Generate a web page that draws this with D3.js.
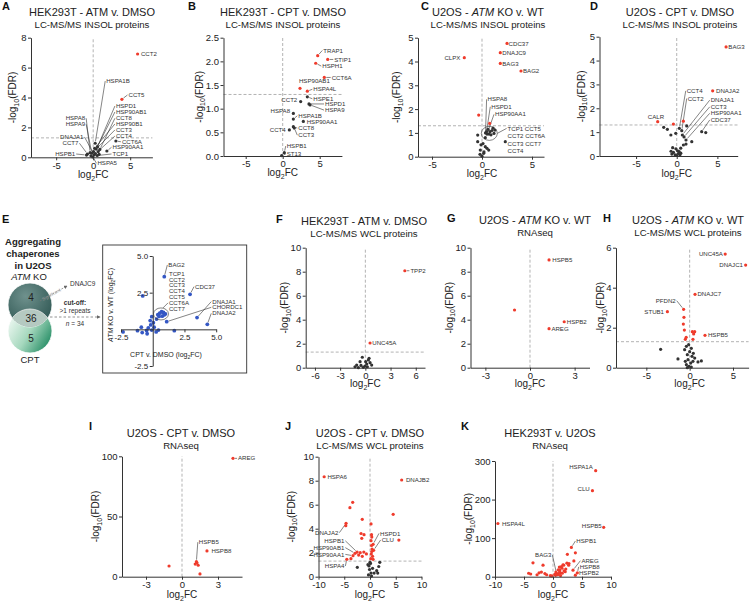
<!DOCTYPE html>
<html>
<head>
<meta charset="utf-8">
<title>Chaperone volcano plots</title>
<script src="https://cdn.jsdelivr.net/npm/d3@7"></script>
<style>
  body { margin: 0; background: #fff; }
  svg { font-family: "Liberation Sans", Arial, sans-serif; display: block; }
  .letter { font-size: 11px; font-weight: bold; fill: #111; }
  .title { font-size: 11px; fill: #222; text-anchor: middle; }
  .sub { font-size: 9.6px; fill: #222; text-anchor: middle; }
  .ax path, .ax line { stroke: #333; stroke-width: 1; }
  .ax text { font-size: 9.5px; fill: #222; }
  .axt { font-size: 10px; fill: #222; text-anchor: middle; }
  .gl { font-size: 6.1px; fill: #333; }
  .lead { stroke: #333; stroke-width: 0.6; }
  .ref { stroke: #aaa; stroke-width: 0.9; stroke-dasharray: 3 2; }
</style>
</head>
<body>
<svg id="fig" width="750" height="603"></svg>
<script>
// ---------- data (log2FC, -log10 FDR) ----------
// A  HEK293T - ATM v. DMSO, INSOL
const aFC  = [6.0, 3.88, 3.07, 1.85, 0.55, 0.27, 0.59, 0.41, 0.05, -0.18, -0.41, -0.77, 0.14, -0.05, 0.68, 0.9, 0.3, -0.3, 0.2, -0.9, 0.8];
const aFDR = [6.91, 3.88, 1.09, 0.42, 0.12, 0.94, 0.71, 0.55, 0.38, 0.27, 0.31, 0.22, 0.16, 0.02, 0.38, 0.53, 0.25, 0.1, 0.6, 0.15, 0.2];
const aLab = [[0,"CCT2",6.45,6.91,"start"],[5,"HSPA1B",1.76,5.1,"start"],[1,"CCT5",4.77,4.17,"start"],
  [6,"HSPD1",3.07,3.43,"start"],[7,"HSP90AB1",3.07,3.03,"start"],[15,"CCT8",3.07,2.61,"start"],
  [18,"HSP90B1",3.07,2.23,"start"],[8,"CCT3",3.07,1.83,"start"],[16,"CCT4",3.07,1.42,"start"],
  [2,"CCT6A",3.88,1.04,"start"],[3,"HSP90AA1",2.61,0.67,"start"],[4,"TCP1",2.61,0.22,"start"],
  [13,"HSPA5",0.58,-0.4,"start"],[10,"HSPA8",-1.08,2.61,"end"],[9,"HSPA9",-1.08,2.21,"end"],
  [12,"DNAJA1",-1.31,1.36,"end"],[11,"CCT7",-1.99,0.94,"end"],[19,"HSPB1",-2.43,0.22,"end"]];

// B  HEK293T - CPT v. DMSO, INSOL
const bFC  = [4.73, 6.08, 4.46, 5.62, 2.34, 3.33, 3.33, 2.43, 3.55, 3.7, 1.44, 1.44, 2.79, 1.44, 0.9, 1.57, 0.22, -0.14];
const bFDR = [2.12, 2.04, 1.96, 1.66, 1.43, 1.37, 1.25, 1.15, 1.10, 1.08, 0.9, 0.78, 0.73, 0.62, 0.55, 0.59, 0.07, 0.01];
const bLab = [[0,"TRAP1",5.49,2.23,"start"],[1,"STIP1",6.97,2.04,"start"],[2,"HSPH1",5.35,1.90,"start"],
  [3,"CCT6A",6.62,1.66,"start"],[4,"HSP90AB1",2.2,1.59,"start",0],[5,"HSPA4L",4.14,1.41,"start"],
  [6,"HSPE1",4.14,1.21,"start"],[7,"CCT2",1.97,1.18,"end"],[8,"HSPD1",5.72,1.10,"start"],
  [9,"HSPA9",5.72,0.97,"start"],[10,"HSPA8",0.99,0.95,"end"],[11,"HSPA1B",2.11,0.85,"start"],
  [12,"HSP90AA1",3.24,0.73,"start"],[14,"CCT4",0.41,0.55,"end"],[13,"CCT8",2.11,0.59,"start"],
  [15,"CCT3",2.11,0.44,"start"],[16,"HSPB1",0.54,0.21,"start"],[17,"ST13",0.54,0.04,"start"]];

// C  U2OS - ATM KO v. WT, INSOL
const cFC  = [2.5, 1.83, 1.83, 3.9, -1.77, -0.33, 0.77, 0.35, 0.45, 0.5, -0.43, -0.43, 0.33, 2.33, -0.17, 0.33, 0.17, 0.0, 0.67, 0.6, 0.8, 1.0, 1.2, 0.9, 1.3, 0.7, 1.1, -0.1, 0.1, 0.2, -0.2, 0.5];
const cFDR = [4.76, 4.37, 3.92, 3.6, 4.16, 1.75, 1.4, 1.0, 1.05, 0.95, 0.91, 0.63, 0.8, 0.63, 0.28, 0.42, 0.14, 0.02, 0.28, 1.15, 1.05, 1.1, 0.98, 0.92, 1.12, 0.95, 1.2, 0.5, 0.55, 0.2, 0.1, 0.35];
const cLab = [[0,"CDC37",2.66,4.76,"start"],[1,"DNAJC9",2.03,4.37,"start"],[2,"BAG3",2.03,3.92,"start"],
  [3,"BAG2",4.1,3.6,"start"],[4,"CLPX",-2.17,4.16,"end"],
  [7,"HSPA8",0.56,2.41,"start"],[8,"HSPD1",0.93,2.1,"start"],[9,"HSP90AA1",1.3,1.78,"start"]];
const cRing = [0.73, 0.98];
const cRingNames = ["TCP1 CCT5", "CCT2 CCT6A", "CCT3 CCT7", "CCT4"];
const cRingLabX = 2.56, cRingLabY = [1.19, 0.87, 0.55, 0.24];

// D  U2OS - CPT v. DMSO, INSOL
const dFC  = [6.07, 4.42, -2.34, -0.41, 0.82, 0.32, 0.62, 0.69, 0.9, 1.14, 3.07, 3.57, 1.23, -1.15, -1.6, -0.12, -0.72, 1.85, 0.82, 1.14, 0.49, -0.7, -0.6, -0.2, 0.0, 0.2, 0.4, -0.4, 0.1, -0.1, 0.3, -0.5, 0.5];
const dFDR = [4.57, 2.73, 1.44, 1.34, 1.46, 1.16, 1.06, 0.88, 0.8, 0.67, 1.02, 0.98, 1.26, 1.12, 1.2, 0.95, 0.88, 0.6, 0.46, 0.5, 0.33, 0.2, 0.08, 0.05, 0.02, 0.1, 0.05, 0.15, 0.22, 0.3, 0.18, 0.35, 0.12];
const dLab = [[0,"BAG3",6.35,4.57,"start"],[1,"DNAJA2",4.83,2.73,"start"],[2,"CALR",-2.55,1.62,"middle",0],
  [5,"CCT4",1.23,2.73,"start"],[6,"CCT2",1.35,2.41,"start"],[7,"DNAJA1",4.18,2.34,"start"],
  [8,"CCT3",4.18,2.06,"start"],[9,"HSP90AA1",4.18,1.79,"start"],[10,"CDC37",4.18,1.51,"start"]];

// E  ATM KO v. WT against CPT v. DMSO (U2OS)
const vennNums = [4, 36, 5];
const eCPT = [0.91, 2.94, 3.49, 1.1, 4.3, -0.79, 1.7, -2.34, -1.2, -0.83, 0.4, 0.55, 0.7, 0.85, 1.0, 0.75, 0.5, 0.9, -0.9, -0.48, -0.16, -0.08, 0.11, -0.35, 0.27, 0.45, -0.44, -0.2, -0.08, 0.05, 0.3];
const eKO  = [3.59, 2.39, 0.8, 0.52, 0.34, 2.28, -0.09, -0.18, -0.09, -0.22, 1.0, 1.1, 1.2, 1.15, 1.05, 0.9, 0.88, 0.98, 0.15, -0.08, 0.3, -0.05, 0.15, 0.1, -0.18, -0.05, -0.3, 0.6, 0.86, 0.45, 0.7];
const eLab = [[0,"BAG2",1.23,4.39,"start"],[1,"CDC37",3.33,2.91,"start"],[2,"DNAJA1",4.69,1.89,"start"],
  [3,"CHORDC1",4.69,1.5,"start"],[4,"DNAJA2",4.69,1.09,"start"]];
const eStack = ["TCP1", "CCT2", "CCT3", "CCT4", "CCT5", "CCT6A", "CCT7"];
const eRing = [0.65, 1.05];
const eTicks = [-2.5, 2.5, 5];

// F  HEK293T - ATM v. DMSO, WCL
const fFC  = [4.7, 0.56, -0.36, -0.63, -1.03, -1.23, 0.36, 0.56, 0.16, -0.04, -0.24, -0.52, 0.24, 0.75, -0.83, 0.44, 0.04];
const fFDR = [8.08, 2.06, 0.87, 0.5, 0.22, 0.08, 0.64, 0.42, 0.31, 0.14, 0.03, 0.19, 0.08, 0.22, 0.0, 0.78, 0.5];
const fLab = [[0,"TPP2",5.36,8.08,"start"],[1,"UNC45A",0.83,2.06,"start"]];

// G  U2OS - ATM KO v. WT, RNAseq
const gFC  = [1.28, -1.04, 2.3, 1.28];
const gFDR = [8.98, 4.81, 3.83, 3.25];
const gLab = [[0,"HSPB5",1.5,8.98,"start"],[2,"HSPB2",2.47,3.83,"start"],[3,"AREG",1.44,3.25,"start"]];

// H  U2OS - ATM KO v. WT, WCL
const hFC  = [4.1, 6.46, 0.62, -0.7, -2.57, 1.77, -0.66, -0.73, -0.61, -0.5, 0.31, 0.58, 0.46, 0.38, -0.4, -3.35, -1.35, 1.35, 0.96, -0.38, -0.12, -0.58, 0, 0.19, -0.27, 0.27, -0.19, 0.12, -0.38, -0.08, 0.38, -0.5, 0.58, 0.19, -0.27, 0.42];
const hFDR = [5.68, 5.13, 3.67, 2.92, 2.8, 1.62, 2.52, 2.18, 1.88, 1.42, 1.8, 1.8, 1.69, 1.42, 1.52, 0.92, 0.44, 0.34, 0.29, 1.07, 1.15, 0.9, 0.8, 0.97, 0.65, 0.57, 0.4, 0.23, 0.15, 0.07, 0.32, 0.32, 0.48, 0.03, 0.0, 0.72];
const hLab = [[0,"UNC45A",3.84,5.68,"end"],[1,"DNAJC1",6.15,5.13,"end"],[2,"DNAJC7",0.89,3.67,"start"],
  [3,"PFDN2",-1.61,3.35,"end"],[4,"STUB1",-2.96,2.8,"end"],[5,"HSPB5",2.11,1.62,"start"]];

// I  U2OS - CPT v. DMSO, RNAseq
const iFC  = [4.25, 2.08, 1.2, -1.08, 1.1, 1.35, 1.25, 1.5];
const iFDR = [98.3, 21.4, 12.5, 8.9, 10.5, 9.5, 11.5, 2.3];
const iLab = [[0,"AREG",4.67,98.3,"start"],[2,"HSPB5",1.4,28.7,"start"],[1,"HSPB8",2.45,21.4,"start"]];

// J  U2OS - CPT v. DMSO, WCL
const jFC  = [-8.9, 6.15, -4.65, -4.7, -3.36, -3.9, -1.5, -1.74, -1.16, -1.6, 0.2, 0.3, 0.35, -2.5, -2.9, -3.3, -4.5, -3.7, -1.9, -1.2, -0.7, -2.2, -1.5, 0.6, 0.7, 0.2, 0.3, 0.4, 0.25, 0.5, 0.15, 0.6, 0.35, 4.5, 5.6, -2.46, 1.3, 1.7, 1.9, 0.8, 1.5, -0.2, 0.1, -0.1, 0.2, -0.3, 0.3, 0.0, -0.4, 0.5];
const jFDR = [8.33, 8.06, 4.45, 4.25, 6.2, 5.75, 4.78, 3.6, 3.5, 3.2, 4.4, 3.5, 3.3, 2.05, 1.95, 1.75, 1.45, 1.5, 2.0, 2.05, 1.9, 1.8, 1.7, 2.7, 2.2, 3.0, 2.6, 2.3, 1.9, 1.7, 1.5, 1.45, 2.1, 5.2, 3.05, 0.78, 0.5, 0.85, 1.2, 0.3, 0.3, 0.9, 1.1, 0.6, 0.3, 0.15, 0.05, 1.2, 1.0, 0.7];
const jLab = [[0,"HSPA6",-8.27,8.33,"start"],[1,"DNAJB2",6.98,8.06,"start"],[2,"DNAJA2",-6.14,3.67,"end"],
  [13,"HSPB1",-4.98,2.99,"end"],[14,"HSP90AB1",-4.98,2.42,"end"],[15,"HSP90AA1",-4.98,1.86,"end"],
  [16,"HSPA4",-4.98,0.89,"end"],[23,"HSPD1",1.94,3.61,"start"],[24,"CLU",2.26,3.06,"start"]];

// K  HEK293T v. U2OS, RNAseq
const kFC  = [7.36, 6.8, 8.74, 3.17, -9.5, 0.6, 3.45, 4.2, 3.86, 3.86, 2.48, 2.76, 3.6, 1.72, 1.45, 1.15, 1.27, -3.45, -1.72, -4.2, -3.85, -2.4, -2.0, -1.4, -1.1, -2.75, -0.46, 1.15, 1.55, 1.84, 1.0, 0.44, 2.1, 2.4, 2.7, 0.8, 1.3, 1.9, 0.3, -0.2, 1.6, 2.2, 0.9, 1.1, 0.5];
const kFDR = [275, 223, 128, 76, 138, 9, 17, 10, 4, 62, 58, 34, 41, 31, 26, 17, 10, 36, 30, 9, 7, 10, 12, 8, 5, 5, 3, 13, 22, 30, 8, 3.5, 13, 35, 30, 5, 3, 15, 6, 2, 9, 20, 18, 25, 12];
const kLab = [[0,"HSPA1A",6.86,285,"end",0],[1,"CLU",6.33,227,"end",0],[2,"HSPB5",8.4,131,"end",0],
  [3,"HSPB1",4.03,92.5,"start"],[4,"HSPA4L",-8.8,138,"start",0],[5,"BAG3",-0.28,56,"end"],
  [6,"AREG",4.9,41.5,"start"],[7,"HSPB8",4.6,25.5,"start"],[8,"HSPB2",4.48,10,"start"]];

const RED = "#ef3b2c", DARK = "#333", BLUE = "#3457c4";
const svg = d3.select("#fig");
svg.append("rect").attr("width", 750).attr("height", 603).attr("fill", "#fff");

function tickFmt(f) {
  return f === "d" ? (d => String(d)) : (d => d.toFixed(1));
}

// text made of parts: [string, "i" | "sub" | undefined]
function rich(sel, parts, subSize) {
  let shifted = false;
  parts.forEach(p => {
    const s = sel.append("tspan").text(p[0]);
    if (p[1] === "i") s.attr("font-style", "italic");
    if (p[1] === "sub") {
      s.attr("font-size", subSize + "px").attr("dy", subSize * 0.4);
      shifted = true;
    } else if (shifted) {
      s.attr("dy", -subSize * 0.4);
      shifted = false;
    }
  });
}

function leader(g, x1, y1, x2, y2, gap) {
  const dx = x2 - x1, dy = y2 - y1, len = Math.hypot(dx, dy);
  if (len < 4) return;
  g.append("line").attr("class", "lead")
    .attr("x1", x1).attr("y1", y1)
    .attr("x2", x2 - dx / len * gap).attr("y2", y2 - dy / len * gap);
}

function labels(g, x, y, pts, lab, size) {
  lab.forEach(l => {
    const p = pts[l[0]], lx = x(l[2]), ly = y(l[3]);
    const ex = l[4] === "start" ? lx - 1 : l[4] === "end" ? lx + 1 : lx;
    if (l[5] !== 0) leader(g, ex, ly, x(p.x), y(p.y), 2);
  });
  lab.forEach(l => {
    g.append("text").attr("class", "gl").attr("x", x(l[2])).attr("y", y(l[3]))
      .attr("dy", "0.35em").attr("text-anchor", l[4])
      .style("font-size", size ? size + "px" : null).text(l[1]);
  });
}

function volcano(o) {
  const g = svg.append("g");
  const x = d3.scaleLinear().domain(o.xd).range(o.xr);
  const y = d3.scaleLinear().domain(o.yd).range(o.yr);

  g.append("text").attr("class", "letter").attr("x", o.L[0]).attr("y", o.L[1]).text(o.letter);
  rich(g.append("text").attr("class", "title").attr("x", o.tx).attr("y", o.ty).attr("dy", "0.35em"), o.title, 8);
  g.append("text").attr("class", "sub").attr("x", o.tx).attr("y", o.ty + 13).attr("dy", "0.35em").text(o.sub);

  // reference lines
  g.append("line").attr("class", "ref").attr("x1", x(0)).attr("x2", x(0)).attr("y1", o.yr[0]).attr("y2", o.yr[1]);
  if (o.thr) g.append("line").attr("class", "ref").attr("x1", o.xr[0]).attr("x2", o.xr[1]).attr("y1", y(1.3)).attr("y2", y(1.3));

  const pts = o.fc.map((v, i) => ({ x: v, y: o.fdr[i] }));
  const lg = g.append("g");
  g.selectAll("circle.pt").data(pts).join("circle").attr("class", "pt")
    .attr("cx", d => x(d.x)).attr("cy", d => y(d.y)).attr("r", 1.6)
    .attr("fill", d => d.y > 1.3 ? RED : DARK);
  labels(lg, x, y, pts, o.lab);
  if (o.extra) o.extra(lg, x, y);

  g.append("g").attr("class", "ax").attr("transform", "translate(0," + o.yr[0] + ")")
    .call(d3.axisBottom(x).tickValues(o.xt).tickSize(3).tickSizeOuter(0).tickPadding(1.5).tickFormat(tickFmt("d")));
  g.append("g").attr("class", "ax").attr("transform", "translate(" + o.xr[0] + ",0)")
    .call(d3.axisLeft(y).tickValues(o.yt).tickSize(3).tickSizeOuter(0).tickPadding(1.5).tickFormat(tickFmt(o.fmt)));

  const yl = g.append("text").attr("class", "axt")
    .attr("transform", "translate(" + (o.xr[0] - o.yOff) + "," + ((o.yr[0] + o.yr[1]) / 2) + ") rotate(-90)");
  rich(yl, [["-log"], ["10", "sub"], ["(FDR)"]], 7);
  const xl = g.append("text").attr("class", "axt").attr("x", x(0)).attr("y", o.xlabY);
  rich(xl, [["log"], ["2", "sub"], ["FC"]], 7);
}

// ---------- panel E ----------
function panelE() {
  const g = svg.append("g");
  const defs = svg.append("defs");
  const t1 = defs.append("radialGradient").attr("id", "gKO").attr("cx", "40%").attr("cy", "30%").attr("r", "75%");
  t1.append("stop").attr("offset", "0").attr("stop-color", "#6f918d");
  t1.append("stop").attr("offset", "1").attr("stop-color", "#2f5753");
  const t2 = defs.append("linearGradient").attr("id", "gCPT").attr("x1", "0").attr("y1", "0.2").attr("x2", "1").attr("y2", "0.8");
  t2.append("stop").attr("offset", "0").attr("stop-color", "#f2faf5");
  t2.append("stop").attr("offset", "0.5").attr("stop-color", "#a6d8be");
  t2.append("stop").attr("offset", "1").attr("stop-color", "#1b875e");
  defs.append("clipPath").attr("id", "clipKO").append("circle").attr("cx", 30).attr("cy", 305).attr("r", 22);
  const mk = defs.append("marker").attr("id", "arr").attr("viewBox", "0 0 6 6").attr("refX", 5).attr("refY", 3)
    .attr("markerWidth", 5).attr("markerHeight", 5).attr("orient", "auto");
  mk.append("path").attr("d", "M0,0L6,3L0,6z").attr("fill", "#666");

  g.append("text").attr("class", "letter").attr("x", 2).attr("y", 223).text("E");
  ["Aggregating", "chaperones", "in U2OS"].forEach((s, i) =>
    g.append("text").attr("x", 33).attr("y", 242 + i * 12).attr("dy", "0.35em").attr("text-anchor", "middle")
      .attr("font-size", "9.5px").attr("font-weight", "bold").attr("fill", "#222").text(s));
  rich(g.append("text").attr("x", 29).attr("y", 277).attr("dy", "0.35em").attr("text-anchor", "middle")
    .attr("font-size", "9.5px").attr("fill", "#222"), [["ATM", "i"], [" KO"]], 7);
  g.append("text").attr("x", 30).attr("y", 360).attr("dy", "0.35em").attr("text-anchor", "middle")
    .attr("font-size", "9.5px").attr("fill", "#222").text("CPT");

  g.append("circle").attr("cx", 30).attr("cy", 331).attr("r", 22).attr("fill", "url(#gCPT)").attr("stroke", "#fff").attr("stroke-width", 0.8);
  g.append("circle").attr("cx", 30).attr("cy", 305).attr("r", 22).attr("fill", "url(#gKO)").attr("stroke", "#fff").attr("stroke-width", 0.8);
  g.append("circle").attr("cx", 30).attr("cy", 331).attr("r", 22).attr("clip-path", "url(#clipKO)")
    .attr("fill", "#b5c9c1").attr("stroke", "#eee").attr("stroke-width", 0.8);
  [297, 318, 338].forEach((yy, i) =>
    g.append("text").attr("x", 31).attr("y", yy).attr("dy", "0.35em").attr("text-anchor", "middle")
      .attr("font-size", "10px").attr("fill", "#222").text(vennNums[i]));

  // significant -> DNAJC9
  g.append("line").attr("x1", 40).attr("y1", 301).attr("x2", 67).attr("y2", 286)
    .attr("stroke", "#777").attr("stroke-width", 0.7).attr("stroke-dasharray", "2 1.5").attr("marker-end", "url(#arr)");
  g.append("text").attr("transform", "translate(52,296) rotate(-29)").attr("text-anchor", "middle")
    .attr("font-size", "4.5px").attr("fill", "#999").text("Significant");
  g.append("text").attr("x", 70).attr("y", 284).attr("dy", "0.35em").attr("font-size", "6.5px").attr("fill", "#333").text("DNAJC9");

  // cut-off arrow
  g.append("text").attr("x", 75).attr("y", 303).attr("dy", "0.35em").attr("text-anchor", "middle")
    .attr("font-size", "6.5px").attr("font-weight", "bold").attr("fill", "#333").text("cut-off:");
  g.append("text").attr("x", 75).attr("y", 311).attr("dy", "0.35em").attr("text-anchor", "middle")
    .attr("font-size", "6.5px").attr("fill", "#333").text(">1 repeats");
  g.append("line").attr("x1", 50).attr("y1", 317).attr("x2", 100).attr("y2", 317)
    .attr("stroke", "#777").attr("stroke-width", 0.8).attr("stroke-dasharray", "2.5 2").attr("marker-end", "url(#arr)");
  rich(g.append("text").attr("x", 75).attr("y", 324).attr("dy", "0.35em").attr("text-anchor", "middle")
    .attr("font-size", "6.5px").attr("fill", "#333"), [["n", "i"], [" = 34"]], 5);

  // scatter box
  g.append("rect").attr("x", 102.7).attr("y", 245).attr("width", 144).attr("height", 128)
    .attr("fill", "none").attr("stroke", "#333").attr("stroke-width", 0.9);
  const x = d3.scaleLinear().domain([-2.5, 5]).range([121, 216.2]);
  const y = d3.scaleLinear().domain([-2.5, 5]).range([366, 256]);
  const pts = eCPT.map((v, i) => ({ x: v, y: eKO[i] }));
  const lg = g.append("g");

  g.selectAll("circle.ep").data(pts).join("circle").attr("class", "ep")
    .attr("cx", d => x(d.x)).attr("cy", d => y(d.y)).attr("r", 1.9).attr("fill", BLUE);
  labels(lg, x, y, pts, eLab, 6.1);
  g.append("ellipse").attr("cx", x(eRing[0])).attr("cy", y(eRing[1])).attr("rx", 7.5).attr("ry", 6)
    .attr("fill", "none").attr("stroke", "#333").attr("stroke-width", 0.6);
  eStack.forEach((s, i) =>
    lg.append("text").attr("class", "gl").style("font-size", "6.1px").attr("x", x(1.28)).attr("y", y(3.8 - i * 0.4))
      .attr("dy", "0.35em").text(s));
  leader(lg, x(1.28) - 1, y(3.8 - 5 * 0.4), x(eRing[0]) + 2, y(eRing[1]) - 6, 0);

  g.append("g").attr("class", "ax").attr("transform", "translate(0," + y(0) + ")")
    .call(d3.axisBottom(x).tickValues(eTicks).tickSize(3).tickSizeOuter(0).tickPadding(1.5).tickFormat(tickFmt("f")))
    .call(a => a.selectAll("text").style("font-size", "8px"));
  g.append("g").attr("class", "ax").attr("transform", "translate(" + x(0) + ",0)")
    .call(d3.axisLeft(y).tickValues(eTicks).tickSize(3).tickSizeOuter(0).tickPadding(1.5).tickFormat(tickFmt("f")))
    .call(a => a.selectAll("text").style("font-size", "8px"));

  rich(g.append("text").attr("x", 166).attr("y", 355).attr("dy", "0.35em").attr("text-anchor", "middle")
    .attr("font-size", "7px").attr("fill", "#222"), [["CPT v. DMSO (log"], ["2", "sub"], ["FC)"]], 5);
  rich(g.append("text").attr("transform", "translate(113,305) rotate(-90)").attr("text-anchor", "middle")
    .attr("font-size", "7px").attr("fill", "#222"), [["ATM", "i"], [" KO v. WT (log"], ["2", "sub"], ["FC)"]], 5);
}

// ---------- panels ----------
volcano({ letter: "A", L: [2, 10], title: [["HEK293T - ATM v. DMSO"]], sub: "LC-MS/MS INSOL proteins", tx: 92, ty: 12,
  xd: [-8.4, 8], xr: [31, 152.4], yd: [0, 8], yr: [157.3, 37.7], xt: [-5, 0, 5], yt: [0, 2, 4, 6, 8], fmt: "d",
  thr: true, yOff: 15, xlabY: 178, fc: aFC, fdr: aFDR, lab: aLab });

volcano({ letter: "B", L: [188, 10], title: [["HEK293T - CPT v. DMSO"]], sub: "LC-MS/MS INSOL proteins", tx: 283, ty: 12,
  xd: [-8, 8], xr: [223.5, 341.9], yd: [0, 2.5], yr: [156, 37.7], xt: [-5, 0, 5], yt: [0, 0.5, 1, 1.5, 2, 2.5], fmt: "f",
  thr: true, yOff: 21, xlabY: 176, fc: bFC, fdr: bFDR, lab: bLab });

volcano({ letter: "C", L: [421, 10], title: [["U2OS - "], ["ATM", "i"], [" KO v. WT"]], sub: "LC-MS/MS INSOL proteins", tx: 488, ty: 12,
  xd: [-6.4, 6.2], xr: [418, 544], yd: [0, 5], yr: [156.7, 37.7], xt: [-5, 0, 5], yt: [0, 1, 2, 3, 4, 5], fmt: "d",
  thr: true, yOff: 18, xlabY: 177, fc: cFC, fdr: cFDR, lab: cLab,
  extra: (lg, x, y) => {
    lg.append("ellipse").attr("cx", x(cRing[0])).attr("cy", y(cRing[1])).attr("rx", 8).attr("ry", 7)
      .attr("fill", "none").attr("stroke", "#333").attr("stroke-width", 0.6);
    cRingNames.forEach((s, i) => lg.append("text").attr("class", "gl").attr("x", x(cRingLabX)).attr("y", y(cRingLabY[i]))
      .attr("dy", "0.35em").text(s));
    leader(lg, x(cRingLabX) - 1, y(cRingLabY[0]), x(cRing[0]) + 8, y(cRing[1]), 0);
  } });

volcano({ letter: "D", L: [590, 10], title: [["U2OS - CPT v. DMSO"]], sub: "LC-MS/MS INSOL proteins", tx: 680, ty: 12,
  xd: [-9.5, 7.5], xr: [599.5, 737.7], yd: [0, 5], yr: [156, 36.7], xt: [-5, 0, 5], yt: [0, 1, 2, 3, 4, 5], fmt: "d",
  thr: true, yOff: 15, xlabY: 177, fc: dFC, fdr: dFDR, lab: dLab });

panelE();

volcano({ letter: "F", L: [276, 223], title: [["HEK293T - ATM v. DMSO"]], sub: "LC-MS/MS WCL proteins", tx: 364, ty: 221,
  xd: [-7.1, 7.1], xr: [305.7, 425], yd: [0, 10], yr: [367.7, 247.7], xt: [-6, -3, 0, 3, 6], yt: [0, 2, 4, 6, 8, 10], fmt: "d",
  thr: true, yOff: 18, xlabY: 387, fc: fFC, fdr: fFDR, lab: fLab });

volcano({ letter: "G", L: [447, 222], title: [["U2OS - "], ["ATM", "i"], [" KO v. WT"]], sub: "RNAseq", tx: 535, ty: 220,
  xd: [-4, 4], xr: [470.5, 589.5], yd: [0, 10], yr: [367.7, 247.7], xt: [-3, 0, 3], yt: [0, 2, 4, 6, 8, 10], fmt: "d",
  thr: false, yOff: 18, xlabY: 387, fc: gFC, fdr: gFDR, lab: gLab });

volcano({ letter: "H", L: [603, 222], title: [["U2OS - "], ["ATM", "i"], [" KO v. WT"]], sub: "LC-MS/MS WCL proteins", tx: 688, ty: 220,
  xd: [-8.5, 6.8], xr: [616, 748.6], yd: [0, 6], yr: [367.7, 247.7], xt: [-5, 0, 5], yt: [0, 2, 4, 6], fmt: "d",
  thr: true, yOff: 12, xlabY: 387, fc: hFC, fdr: hFDR, lab: hLab });

volcano({ letter: "I", L: [89, 430], title: [["U2OS - CPT v. DMSO"]], sub: "RNAseq", tx: 181, ty: 433,
  xd: [-5, 5], xr: [122, 242], yd: [0, 100], yr: [576.7, 456.3], xt: [-3, 0, 3], yt: [0, 50, 100], fmt: "d",
  thr: false, yOff: 23, xlabY: 598, fc: iFC, fdr: iFDR, lab: iLab });

volcano({ letter: "J", L: [285, 430], title: [["U2OS - CPT v. DMSO"]], sub: "LC-MS/MS WCL proteins", tx: 370, ty: 433,
  xd: [-10, 10], xr: [318.5, 421.5], yd: [0, 10], yr: [576.7, 456.7], xt: [-10, -5, 0, 5, 10], yt: [0, 2, 4, 6, 8, 10], fmt: "d",
  thr: true, yOff: 24, xlabY: 598, fc: jFC, fdr: jFDR, lab: jLab });

volcano({ letter: "K", L: [461, 430], title: [["HEK293T v. U2OS"]], sub: "RNAseq", tx: 550, ty: 433,
  xd: [-10, 10], xr: [495, 611], yd: [0, 300], yr: [576.7, 461], xt: [-10, -5, 0, 5, 10], yt: [0, 100, 200, 300], fmt: "d",
  thr: false, yOff: 23, xlabY: 598, fc: kFC, fdr: kFDR, lab: kLab });
</script>
</body>
</html>
